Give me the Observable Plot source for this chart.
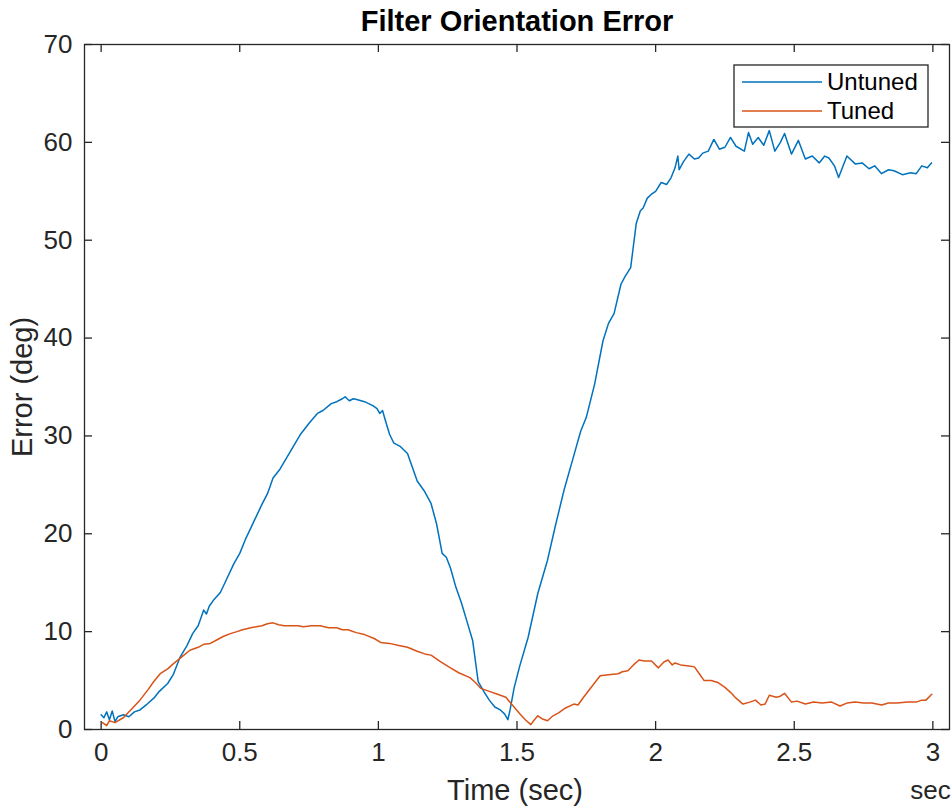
<!DOCTYPE html>
<html>
<head>
<meta charset="utf-8">
<script src="https://cdn.jsdelivr.net/npm/d3@7"></script>
<script src="https://cdn.jsdelivr.net/npm/@observablehq/plot@0.6"></script>
<style>
  html, body { margin: 0; padding: 0; background: #fff; }
  #chart { width: 952px; height: 807px; }
</style>
</head>
<body>
<div id="chart"></div>
<script>
// ---- Data ----
const timeUntuned = [0, 0.01, 0.02, 0.03, 0.04, 0.05, 0.06, 0.08, 0.10, 0.12, 0.14, 0.166, 0.19, 0.21, 0.24, 0.26, 0.285, 0.31, 0.33, 0.35, 0.37, 0.38, 0.39, 0.405, 0.43, 0.45, 0.478, 0.50, 0.52, 0.54, 0.56, 0.58, 0.60, 0.62, 0.645, 0.67, 0.695, 0.72, 0.75, 0.78, 0.80, 0.83, 0.85, 0.87, 0.88, 0.895, 0.91, 0.925, 0.95, 0.98, 0.995, 1.005, 1.015, 1.025, 1.04, 1.055, 1.08, 1.105, 1.12, 1.14, 1.165, 1.19, 1.21, 1.22, 1.23, 1.245, 1.26, 1.28, 1.30, 1.32, 1.34, 1.36, 1.38, 1.40, 1.42, 1.44, 1.455, 1.467, 1.475, 1.49, 1.51, 1.54, 1.575, 1.61, 1.64, 1.67, 1.70, 1.73, 1.75, 1.78, 1.81, 1.83, 1.85, 1.875, 1.89, 1.91, 1.93, 1.945, 1.955, 1.97, 1.985, 2.0, 2.02, 2.04, 2.056, 2.07, 2.08, 2.085, 2.1, 2.12, 2.14, 2.155, 2.17, 2.19, 2.21, 2.23, 2.25, 2.27, 2.29, 2.32, 2.335, 2.35, 2.37, 2.39, 2.41, 2.43, 2.45, 2.465, 2.49, 2.515, 2.54, 2.565, 2.59, 2.61, 2.625, 2.645, 2.66, 2.675, 2.69, 2.72, 2.745, 2.77, 2.79, 2.815, 2.84, 2.86, 2.89, 2.92, 2.94, 2.96, 2.98, 2.995];
const errUntuned = [1.5, 1.2, 1.8, 1.0, 1.9, 0.8, 1.3, 1.5, 1.3, 1.8, 2.0, 2.6, 3.2, 3.9, 4.7, 5.6, 7.4, 8.6, 9.8, 10.6, 12.2, 11.8, 12.6, 13.2, 14.0, 15.2, 16.9, 18.0, 19.4, 20.6, 21.8, 23.0, 24.1, 25.7, 26.6, 27.8, 29.0, 30.2, 31.3, 32.3, 32.6, 33.3, 33.5, 33.8, 34.0, 33.6, 33.8, 33.7, 33.5, 33.1, 32.8, 32.3, 32.6, 31.6, 30.2, 29.3, 28.9, 28.2, 27.0, 25.4, 24.4, 23.1, 21.0, 19.5, 18.0, 17.6, 16.5, 14.5, 12.9, 11.0, 9.1, 4.9, 3.9, 3.0, 2.3, 2.0, 1.6, 1.0, 2.0, 4.3, 6.5, 9.4, 13.9, 17.3, 21.0, 24.5, 27.5, 30.5, 31.9, 35.3, 39.7, 41.5, 42.5, 45.5, 46.3, 47.2, 51.7, 53.0, 53.3, 54.3, 54.7, 55.0, 55.9, 55.7, 56.4, 57.4, 58.6, 57.2, 58.0, 58.8, 58.3, 58.4, 58.9, 59.1, 60.3, 59.3, 59.5, 60.5, 59.6, 59.1, 61.0, 59.8, 60.5, 59.7, 61.2, 59.1, 60.0, 60.9, 58.8, 60.2, 58.3, 58.6, 57.9, 58.6, 58.4, 57.6, 56.4, 57.5, 58.6, 57.8, 57.9, 57.3, 57.6, 56.8, 57.2, 57.1, 56.7, 56.9, 56.8, 57.6, 57.4, 57.9];

const timeTuned = [0.005, 0.02, 0.03, 0.05, 0.08, 0.11, 0.14, 0.17, 0.19, 0.213, 0.24, 0.26, 0.29, 0.32, 0.35, 0.37, 0.394, 0.42, 0.44, 0.466, 0.49, 0.51, 0.54, 0.56, 0.58, 0.60, 0.62, 0.64, 0.66, 0.69, 0.71, 0.73, 0.76, 0.79, 0.82, 0.85, 0.87, 0.89, 0.92, 0.95, 0.985, 1.008, 1.04, 1.07, 1.105, 1.14, 1.17, 1.19, 1.225, 1.26, 1.29, 1.33, 1.35, 1.37, 1.40, 1.43, 1.46, 1.48, 1.51, 1.53, 1.55, 1.56, 1.575, 1.59, 1.61, 1.63, 1.65, 1.675, 1.705, 1.72, 1.74, 1.77, 1.80, 1.83, 1.865, 1.88, 1.90, 1.92, 1.94, 1.96, 1.985, 2.01, 2.03, 2.045, 2.06, 2.07, 2.09, 2.12, 2.14, 2.16, 2.175, 2.2, 2.225, 2.25, 2.27, 2.29, 2.315, 2.34, 2.36, 2.38, 2.395, 2.41, 2.435, 2.45, 2.465, 2.49, 2.51, 2.54, 2.57, 2.6, 2.635, 2.665, 2.69, 2.72, 2.75, 2.78, 2.815, 2.84, 2.87, 2.91, 2.94, 2.96, 2.975, 2.996];
const errTuned = [0.7, 0.4, 0.9, 0.7, 1.2, 2.1, 3.0, 4.1, 4.9, 5.7, 6.2, 6.7, 7.4, 8.1, 8.4, 8.7, 8.8, 9.2, 9.5, 9.8, 10.0, 10.2, 10.4, 10.5, 10.6, 10.8, 10.9, 10.7, 10.6, 10.6, 10.6, 10.5, 10.6, 10.6, 10.4, 10.4, 10.2, 10.2, 9.9, 9.7, 9.3, 8.9, 8.8, 8.6, 8.4, 8.0, 7.7, 7.6, 6.9, 6.3, 5.8, 5.3, 4.8, 4.2, 3.9, 3.6, 3.3, 2.6, 1.6, 1.0, 0.5, 0.9, 1.4, 1.1, 0.9, 1.4, 1.7, 2.2, 2.6, 2.5, 3.3, 4.4, 5.5, 5.6, 5.7, 5.9, 6.0, 6.6, 7.1, 7.0, 7.0, 6.3, 6.9, 7.1, 6.6, 6.8, 6.6, 6.5, 6.4, 5.6, 5.0, 5.0, 4.8, 4.3, 3.8, 3.2, 2.6, 2.8, 3.0, 2.5, 2.6, 3.5, 3.3, 3.4, 3.7, 2.8, 2.9, 2.6, 2.8, 2.7, 2.8, 2.4, 2.7, 2.8, 2.7, 2.7, 2.5, 2.7, 2.7, 2.8, 2.8, 3.0, 3.0, 3.6];

const seriesNames = ["Untuned", "Tuned"];
const seriesColors = ["#0072BD", "#D95319"];
const xTicks = [0, 0.5, 1, 1.5, 2, 2.5, 3];
const yTicks = [0, 10, 20, 30, 40, 50, 60, 70];
const titleText = "Filter Orientation Error";
const xLabel = "Time (sec)";
const xUnit = "sec";
const yLabel = "Error (deg)";

// ---- Layout ----
const W = 952, H = 807;
const mL = 84, mR = 3, mT = 44, mB = 78;
const fw = W - mL - mR, fh = H - mT - mB;
const tickLen = 8;
const axisColor = "#262626";
const font = "'Liberation Sans', Arial, Helvetica, sans-serif";
const tickFont = 26, labelFont = 29, legendFont = 24;

const untuned = timeUntuned.map((t, i) => ({t, e: errUntuned[i]}));
const tuned = timeTuned.map((t, i) => ({t, e: errTuned[i]}));

const plot = Plot.plot({
  width: W, height: H,
  marginLeft: mL, marginRight: mR, marginTop: mT, marginBottom: mB,
  style: {fontFamily: font, fontSize: tickFont + "px", color: axisColor, background: "white", overflow: "visible"},
  x: {domain: [-0.06, 3.06]},
  y: {domain: [0, 70]},
  marks: [
    Plot.line(untuned, {x: "t", y: "e", stroke: seriesColors[0], strokeWidth: 1.5}),
    Plot.line(tuned, {x: "t", y: "e", stroke: seriesColors[1], strokeWidth: 1.5}),
    Plot.frame({stroke: axisColor, strokeWidth: 1.3}),
    Plot.tickX(xTicks, {x: d => d, insetTop: fh - tickLen, stroke: axisColor, strokeWidth: 1.3}),
    Plot.tickX(xTicks, {x: d => d, insetBottom: fh - tickLen, stroke: axisColor, strokeWidth: 1.3}),
    Plot.tickY(yTicks, {y: d => d, insetRight: fw - tickLen, stroke: axisColor, strokeWidth: 1.3}),
    Plot.tickY(yTicks, {y: d => d, insetLeft: fw - tickLen, stroke: axisColor, strokeWidth: 1.3}),
    Plot.axisX(xTicks, {tickSize: 0, tickPadding: 13, label: null, tickFormat: d => String(d), fontSize: tickFont, fill: axisColor}),
    Plot.axisY(yTicks, {tickSize: 0, tickPadding: 12, label: null, tickFormat: d => String(d), fontSize: tickFont, fill: axisColor}),
    Plot.text([titleText], {frameAnchor: "top", lineAnchor: "middle", textAnchor: "middle", dy: -23, fontWeight: "bold", fontSize: labelFont, fill: "#000"}),
    Plot.text([xLabel], {frameAnchor: "bottom", lineAnchor: "middle", textAnchor: "middle", dx: -2, dy: 61, fontSize: labelFont, fill: axisColor}),
    Plot.text([xUnit], {frameAnchor: "bottom-right", lineAnchor: "middle", textAnchor: "middle", dx: -19, dy: 61, fontSize: tickFont, fill: axisColor}),
    Plot.text([yLabel], {frameAnchor: "left", lineAnchor: "middle", textAnchor: "middle", rotate: -90, dx: -62, fontSize: labelFont, fill: axisColor})
  ]
});

document.getElementById("chart").appendChild(plot);

// ---- Legend (inside the axes, top-right) ----
const svg = d3.select(plot);
const lg = svg.append("g").attr("font-family", font).attr("font-size", legendFont).attr("text-anchor", "start");
const lx = 734, ly = 65, lw = 194, lh = 62;
lg.append("rect").attr("x", lx).attr("y", ly).attr("width", lw).attr("height", lh)
  .attr("fill", "white").attr("stroke", axisColor).attr("stroke-width", 1.3);
seriesNames.forEach((name, i) => {
  const cy = ly + 17 + i * 29;
  lg.append("line").attr("x1", lx + 8).attr("x2", lx + 88).attr("y1", cy).attr("y2", cy)
    .attr("stroke", seriesColors[i]).attr("stroke-width", 1.5);
  lg.append("text").attr("x", lx + 93).attr("y", cy).attr("dy", "0.35em")
    .attr("text-anchor", "start").attr("fill", "#000").text(name);
});
</script>
</body>
</html>
